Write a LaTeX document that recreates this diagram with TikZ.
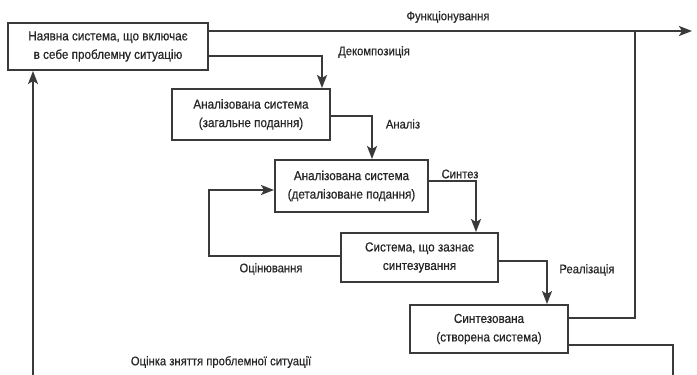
\documentclass[tikz,border=0pt]{standalone}
\usepackage{fontspec}
\setmainfont[FakeStretch=0.9,FakeBold=0.5]{Liberation Sans}
\usetikzlibrary{arrows.meta}
\definecolor{ink}{HTML}{3A3A3A}
\definecolor{txt}{HTML}{262626}
\tikzset{
  stagebox/.style={draw=ink, line width=2pt, fill=white, align=center,
    inner sep=0pt, text=txt, font=\fontsize{13}{18.5}\selectfont},
  link/.style={draw=ink, line width=2pt},
  arr/.style={link, -{Stealth[length=13pt,width=10pt,inset=3pt]}},
  lbl/.style={text=txt, font=\fontsize{12.5}{14}\selectfont, inner sep=0pt}
}
\begin{document}
\begin{tikzpicture}[x=1pt,y=-1pt]
\useasboundingbox (0,0) rectangle (697,375);

% stages
\node[stagebox, minimum width=200pt, minimum height=47pt] (b1) at (108,46.5)
  {Наявна система, що включає\\в себе проблемну ситуацію};
\node[stagebox, minimum width=158pt, minimum height=51pt] (b2) at (251,114.5)
  {Аналізована система\\(загальне подання)};
\node[stagebox, minimum width=153pt, minimum height=52pt] (b3) at (351.5,186)
  {Аналізована система\\(деталізоване подання)};
\node[stagebox, minimum width=157pt, minimum height=49pt] (b4) at (419.5,257.5)
  {Система, що зазнає\\синтезування};
\node[stagebox, minimum width=158pt, minimum height=48pt] (b5) at (489,329)
  {Синтезована\\(створена система)};

% free ends
\coordinate (fout) at (692,31);
\coordinate (join) at (635,31);
\coordinate (downR) at (673,378);
\coordinate (upL) at (33,378);

% functioning
\draw[arr] ([yshift=15.5pt]b1.east) -- (fout);
\draw[link] ([yshift=11pt]b5.east) -| (join);
% decomposition
\draw[arr] ([yshift=-9.5pt]b1.east) -| ([xshift=71pt]b2.north);
% analysis
\draw[arr] ([yshift=-1.5pt]b2.east) -| ([xshift=20.5pt]b3.north);
% synthesis
\draw[arr] ([yshift=5pt]b3.east) -| ([xshift=56.5pt]b4.north);
% evaluation loop
\draw[arr] ([yshift=1.5pt]b4.west) -| ([xshift=-65pt,yshift=-4pt]b3.west)
  -- ([yshift=-4pt]b3.west);
% realisation
\draw[arr] ([yshift=-3.5pt]b4.east) -| ([xshift=58pt]b5.north);
% problem-resolution loop
\draw[link] ([yshift=-16pt]b5.east) -| (downR);
\draw[arr] (upL) -- (upL |- b1.south);

% labels
\node[lbl] (lf) at (448,17) {Функціонування};
\node[lbl] (ld) at (374,52) {Декомпозиція};
\node[lbl] (la) at (403,124) {Аналіз};
\node[lbl] (ls) at (460,174) {Синтез};
\node[lbl] (lo) at (271,269) {Оцінювання};
\node[lbl] (lr) at (587,270) {Реалізація};
\node[lbl] (le) at (221,362) {Оцінка зняття проблемної ситуації};
\end{tikzpicture}
\end{document}
